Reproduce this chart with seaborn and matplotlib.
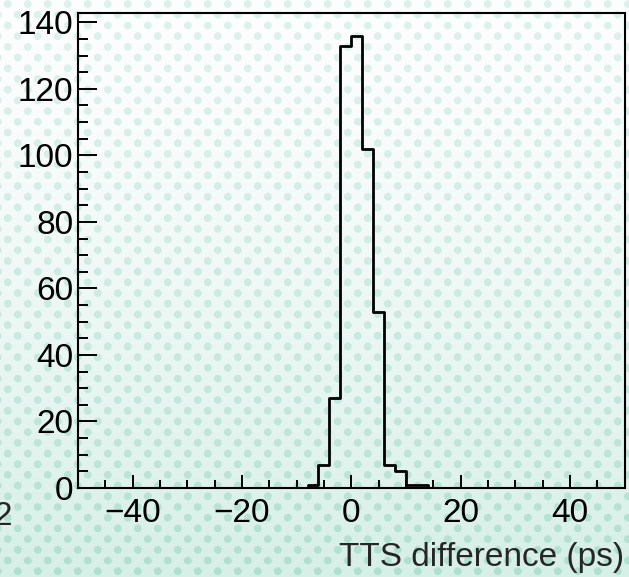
import numpy as np
import pandas as pd
import matplotlib
matplotlib.use("Agg")
import matplotlib.pyplot as plt
from matplotlib.ticker import MultipleLocator
import seaborn as sns

# Histogram of TTS differences: 2 ps bins from -50 to 50 ps
bin_edges = np.arange(-50, 52, 2)
bin_centers = (bin_edges[:-1] + bin_edges[1:]) / 2
nonzero_lo = [-8, -6, -4, -2, 0, 2, 4, 6, 8, 10, 12]
nonzero_counts = [1, 7, 27, 133, 136, 102, 53, 7, 5, 1, 1]

counts = np.zeros(len(bin_centers))
for lo, c in zip(nonzero_lo, nonzero_counts):
    counts[np.searchsorted(bin_edges, lo)] = c

df = pd.DataFrame({"tts": bin_centers, "entries": counts})

x_ticks = [-40, -20, 0, 20, 40]
y_ticks = [0, 20, 40, 60, 80, 100, 120, 140]

sns.set_style("ticks")
plt.rcParams["font.family"] = ["Liberation Sans", "DejaVu Sans"]

W, H, DPI = 629, 577, 100
fig = plt.figure(figsize=(W / DPI, H / DPI), dpi=DPI)

# dotted slide background with a soft white-to-mint gradient
yy, xx = np.mgrid[0:H, 0:W].astype(float)
t = (yy / (H - 1)) ** 1.4
bg_top = np.array([253, 254, 254]) / 255
bg_bot = np.array([214, 239, 231]) / 255
dot_top = np.array([222, 242, 237]) / 255
dot_bot = np.array([176, 224, 208]) / 255
px, py = 20.0, 21.4


def lattice_dist(x0, y0):
    dx = np.mod(xx - x0, px)
    dx = np.minimum(dx, px - dx)
    dy = np.mod(yy - y0, py)
    dy = np.minimum(dy, py - dy)
    return np.hypot(dx, dy)


d = np.minimum(lattice_dist(7.3, 3.6), lattice_dist(17.3, 14.3))
cover = np.clip(3.9 + 0.5 - d, 0, 1)[..., None]
bg = bg_top + (bg_bot - bg_top) * t[..., None]
dots = dot_top + (dot_bot - dot_top) * t[..., None]
img = bg * (1 - cover) + dots * cover
fig.figimage(img, xo=0, yo=0, origin="upper", zorder=-10)

ax = fig.add_axes([78 / W, 1 - 488 / H, (624.5 - 78) / W, (488 - 13) / H])
ax.set_facecolor("none")

sns.histplot(data=df, x="tts", weights="entries", binwidth=2,
             binrange=(-50, 50), element="step", fill=False,
             color="black", linewidth=2.0, ax=ax)

ax.set_xlim(-50, 50)
ax.set_ylim(0, 142.8)
ax.set_xticks(x_ticks)
ax.set_yticks(y_ticks)
ax.xaxis.set_minor_locator(MultipleLocator(5))
ax.yaxis.set_minor_locator(MultipleLocator(5))
ax.set_xticklabels([f"\u2212{abs(v)}" if v < 0 else str(v) for v in x_ticks])

for side in ["left", "right", "top", "bottom"]:
    ax.spines[side].set_visible(True)
    ax.spines[side].set_linewidth(1.5)
    ax.spines[side].set_color("black")

ax.tick_params(axis="both", which="both", direction="in", width=1.4,
               color="black", labelsize=24, labelcolor="black",
               top=False, right=False)
ax.tick_params(axis="x", which="major", length=9.6, pad=7.5)
ax.tick_params(axis="x", which="minor", length=5.5)
ax.tick_params(axis="y", which="major", length=13.4, pad=3.5)
ax.tick_params(axis="y", which="minor", length=7.2)

ax.set_ylabel("")
ax.set_xlabel("TTS difference (ps)", fontsize=24, loc="right")
ax.xaxis.set_label_coords(1.0, (488 - 542) / 475)
ax.xaxis.label.set_va("top")

fig.text(11.5 / W, 1 - 525 / H, "2", ha="right", va="baseline", fontsize=24)

fig.savefig("out.png", dpi=DPI)
